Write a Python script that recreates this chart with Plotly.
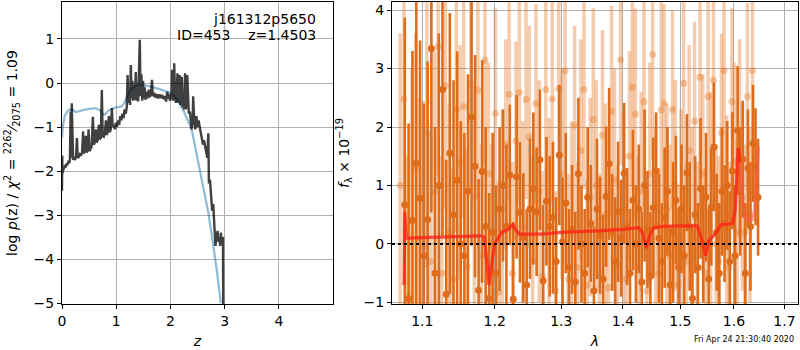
import plotly.graph_objects as go
import math

# ---------------- Left panel: p(z) ----------------
pz_z = [0.000,0.004,0.010,0.020,0.035,0.050,0.065,0.080,0.100,0.115,0.130,0.145,0.160,0.170,0.180,0.192,0.205,0.220,0.240,0.260,
        0.275,0.290,0.310,0.330,0.350,0.370,0.390,0.400,0.420,0.440,0.455,0.475,0.490,0.505,0.525,0.545,0.570,0.585,0.605,0.625,
        0.640,0.660,0.680,0.695,0.715,0.735,0.750,0.770,0.790,0.810,0.825,0.845,0.865,0.880,0.900,0.920,0.935,0.955,0.975,0.995,
        1.015,1.035,1.055,1.075,1.095,1.115,1.135,1.155,1.175,1.195,1.210,1.225,1.240,1.255,1.270,1.285,1.300,1.315,1.330,1.345,
        1.360,1.375,1.390,1.405,1.420,1.435,1.450,1.465,1.480,1.495,1.510,1.525,1.540,1.560,1.580,1.600,1.620,1.640,1.660,1.675,
        1.700,1.720,1.745,1.770,1.795,1.820,1.845,1.870,1.895,1.920,1.940,1.960,1.975,1.990,2.005,2.020,2.030,2.045,2.060,2.070,
        2.085,2.100,2.115,2.130,2.145,2.160,2.170,2.185,2.200,2.210,2.225,2.240,2.255,2.270,2.285,2.300,2.310,2.325,2.340,2.360,
        2.370,2.390,2.410,2.420,2.440,2.460,2.480,2.500,2.520,2.550,2.580,2.600,2.620,2.640,2.660,2.680,2.700,2.710,2.730,2.750,
        2.770,2.790,2.800,2.820,2.830,2.850,2.870,2.880,2.900,2.920,2.930,2.950,2.970,2.975]
pz_logp = [-2.45,-1.65,-2.05,-1.98,-1.95,-1.90,-1.92,-1.85,-1.85,-1.80,-1.82,-1.75,-0.65,-1.70,-0.46,-1.72,-1.75,-1.68,-1.75,-1.65,
           -1.25,-1.70,-1.68,-1.62,-1.65,-1.58,-1.10,-1.60,-1.55,-1.20,-1.58,-1.50,-1.05,-1.55,-1.50,-1.45,-0.77,-1.40,-1.35,-1.05,
           -1.35,-1.30,-0.95,-1.28,-1.25,-0.16,-1.20,-1.22,-1.15,-0.85,-1.18,-1.10,-0.75,-1.12,-1.05,-0.57,-1.00,-0.95,-1.05,-0.90,
           -1.00,-0.85,-0.95,-0.75,-0.85,-0.70,-0.80,-0.60,-0.70,-0.55,0.18,-0.45,-0.20,-0.50,0.41,-0.35,0.05,-0.40,-0.05,-0.38,
           0.25,-0.40,-0.15,-0.42,0.30,0.98,-0.30,0.20,-0.40,0.05,-0.35,-0.10,-0.38,-0.20,-0.35,-0.15,-0.32,-0.25,0.07,-0.30,
           -0.22,-0.33,-0.25,-0.35,-0.26,-0.34,-0.27,-0.36,-0.30,-0.42,-0.20,-0.35,-0.25,-0.40,-0.25,-0.35,0.30,-0.40,-0.20,0.45,
           -0.30,-0.45,-0.20,0.22,-0.45,-0.30,0.18,-0.50,-0.30,0.14,-0.55,-0.35,-0.60,0.22,-0.60,-0.40,0.18,-0.60,-0.70,-0.65,
           -0.80,-1.05,-0.85,-0.30,-0.90,-1.05,-0.75,-1.00,-0.85,-1.10,-1.25,-1.40,-1.30,-1.45,-1.50,-1.70,-1.14,-2.28,-2.20,-2.60,
           -2.90,-2.75,-3.00,-3.35,-3.70,-3.50,-3.36,-3.60,-3.50,-3.70,-3.40,-3.65,-3.50,-5.50]

prior_z = [0.00,0.02,0.05,0.10,0.15,0.20,0.25,0.30,0.35,0.40,0.45,0.50,0.55,0.60,0.65,0.70,0.74,0.78,0.82,0.86,
           0.90,0.95,1.00,1.05,1.10,1.15,1.20,1.25,1.30,1.35,1.40,1.45,1.50,1.55,1.60,1.70,1.80,1.90,2.00,2.05,
           2.10,2.15,2.20,2.25,2.30,2.35,2.40,2.45,2.50,2.55,2.60,2.65,2.70,2.75,2.80,2.85,2.90,2.93]
prior_logp = [-1.25,-0.95,-0.75,-0.64,-0.60,-0.61,-0.66,-0.65,-0.63,-0.61,-0.60,-0.58,-0.57,-0.57,-0.59,-0.62,-0.70,-0.72,-0.68,-0.62,
              -0.60,-0.58,-0.55,-0.55,-0.53,-0.45,-0.30,-0.20,-0.12,-0.07,-0.05,-0.05,-0.05,-0.06,-0.07,-0.10,-0.14,-0.18,-0.22,-0.27,
              -0.34,-0.43,-0.54,-0.65,-0.80,-0.93,-1.10,-1.40,-1.70,-2.00,-2.35,-2.65,-2.95,-3.35,-3.75,-4.20,-4.70,-5.00]

# ---------------- Right panel: spectrum ----------------
dark_lam = [1.077,1.082,1.087,1.092,1.097,1.102,1.107,1.112,1.117,1.122,1.127,1.132,1.137,1.142,1.147,1.152,1.157,1.162,1.167,1.172,
            1.177,1.182,1.187,1.192,1.197,1.202,1.207,1.212,1.217,1.222,1.227,1.232,1.237,1.242,1.247,1.252,1.257,1.262,1.267,1.272,
            1.277,1.282,1.287,1.292,1.297,1.302,1.307,1.312,1.317,1.322,1.327,1.332,1.337,1.342,1.347,1.352,1.357,1.362,1.367,1.372,
            1.377,1.382,1.387,1.392,1.397,1.402,1.407,1.412,1.417,1.422,1.427,1.432,1.437,1.442,1.447,1.452,1.457,1.462,1.467,1.472,
            1.477,1.482,1.487,1.492,1.497,1.502,1.507,1.512,1.517,1.522,1.527,1.532,1.537,1.542,1.547,1.552,1.557,1.562,1.567,1.572,
            1.577,1.582,1.587,1.592,1.597,1.602,1.607,1.612,1.617,1.622,1.627,1.632,1.637,1.642,1.647]
dark_flux = [0.67,-0.94,0.40,1.38,0.78,-0.20,0.42,3.34,-0.50,1.00,2.64,-0.86,1.55,0.50,1.09,0.00,-0.20,0.90,2.17,1.33,
             -0.79,1.24,0.30,-0.93,0.20,-0.50,0.60,1.00,0.30,1.18,-0.94,1.15,0.54,0.11,-0.70,0.60,0.95,0.55,1.44,-0.63,
             0.73,0.30,0.45,-0.30,1.52,0.04,0.70,-0.40,0.25,-0.65,1.20,0.00,-0.50,0.80,0.35,-0.80,0.60,0.15,-0.60,0.81,
             1.37,0.20,-0.30,0.55,0.10,1.21,0.30,-0.50,0.75,0.00,0.60,-0.65,1.00,0.25,-0.55,0.62,1.25,0.10,-0.30,0.45,
             0.90,-0.70,0.20,0.75,-0.40,0.60,-0.20,1.22,0.30,-0.93,0.50,-0.40,0.95,0.00,0.80,-0.60,0.63,1.66,0.20,-0.50,
             0.90,0.35,1.00,-0.30,1.25,-0.20,1.94,0.90,1.45,-0.50,1.30,0.30,1.72,1.32,0.80]
dark_err = [3.2,3.0,2.9,2.9,2.7,2.6,2.7,2.8,2.5,2.6,2.5,2.3,2.4,2.3,2.2,2.1,2.1,2.0,2.2,1.9,
            1.9,1.9,1.7,1.8,1.7,1.5,1.4,1.3,1.4,1.2,1.3,1.4,1.2,1.1,1.3,1.2,1.3,1.1,1.2,1.3,
            1.1,1.2,1.3,1.1,1.2,1.1,1.2,1.0,1.1,1.2,1.3,1.0,1.1,1.2,1.0,1.1,1.2,1.0,1.1,1.2,
            1.3,1.0,1.1,1.2,1.0,1.2,1.0,1.1,1.2,1.0,1.1,1.2,1.3,1.0,1.1,1.2,1.0,1.1,1.0,1.2,
            1.1,1.0,1.2,1.1,1.0,1.1,1.2,1.0,1.1,1.2,1.0,1.1,1.2,1.0,1.1,1.2,1.0,1.1,1.0,1.2,
            1.1,1.0,1.1,1.2,1.0,1.2,1.1,1.1,1.0,1.2,1.0,1.1,1.0,1.0,1.0]

light_lam = [1.071,1.076,1.081,1.086,1.091,1.096,1.101,1.106,1.111,1.116,1.121,1.126,1.131,1.136,1.141,1.146,1.151,1.156,1.161,1.166,
             1.171,1.176,1.181,1.186,1.191,1.196,1.201,1.206,1.211,1.216,1.221,1.226,1.231,1.236,1.241,1.246,1.251,1.256,1.261,1.266,
             1.271,1.276,1.281,1.286,1.291,1.296,1.301,1.306,1.311,1.316,1.321,1.326,1.331,1.336,1.341,1.346,1.351,1.356,1.361,1.366,
             1.371,1.376,1.381,1.386,1.391,1.396,1.401,1.406,1.411,1.416,1.421,1.426,1.431,1.436,1.441,1.446,1.451,1.456,1.461,1.466,
             1.471,1.476,1.481,1.486,1.491,1.496,1.501,1.506,1.511,1.516,1.521,1.526,1.531,1.536,1.541,1.546,1.551,1.556,1.561,1.566,
             1.571,1.576,1.581,1.586,1.591,1.596,1.601,1.606,1.611,1.616,1.621,1.626,1.631,1.636]
light_flux = [1.00,2.48,-0.90,0.40,1.30,0.10,-0.05,1.90,-0.30,0.90,3.37,-0.50,2.70,0.20,-0.60,2.30,1.40,2.35,-0.39,2.75,
              0.80,2.63,-0.20,3.14,1.20,0.00,2.23,-0.82,0.60,1.70,2.56,-0.50,1.76,2.59,0.30,2.47,1.83,-0.30,2.40,0.90,
              -0.55,2.64,0.45,2.48,-0.80,2.66,1.20,2.96,-0.60,0.20,2.03,-0.40,1.60,2.64,-0.70,0.80,2.13,1.00,-0.50,1.86,
              0.50,-0.75,2.27,1.10,-0.35,3.15,0.60,-0.60,1.50,2.68,2.22,-0.40,0.90,2.43,-0.80,1.20,3.24,0.30,-0.50,2.29,
              2.40,0.60,-0.20,2.30,1.00,-0.70,0.40,2.75,-0.30,1.60,0.10,2.10,-0.40,2.85,1.20,-0.50,2.52,0.70,2.80,0.00,
              -0.30,1.90,2.96,0.50,-0.40,2.43,1.40,0.20,1.80,0.80,0.20,2.52,0.50,2.96]
light_err = [2.6,2.5,2.4,2.6,2.3,2.4,2.5,2.3,2.2,2.4,2.2,2.0,2.1,2.2,1.9,2.1,2.0,1.9,2.0,1.8,
             1.9,1.8,1.9,1.8,1.9,1.7,1.8,1.9,1.7,1.8,1.8,1.9,1.7,1.9,1.8,1.7,1.9,1.8,1.7,1.9,
             1.8,1.9,1.7,1.8,1.7,1.9,1.8,1.7,1.8,1.9,1.7,1.8,1.9,1.7,1.8,1.7,1.9,1.8,1.7,1.8,
             1.9,1.7,1.8,1.9,1.7,1.8,1.7,1.9,1.8,1.7,1.8,1.9,1.7,1.8,1.7,1.9,1.8,1.7,1.8,1.9,
             1.7,1.8,1.9,1.7,1.8,1.7,1.9,1.8,1.7,1.8,1.9,1.7,1.8,1.9,1.7,1.8,1.7,1.9,1.8,1.7,
             1.8,1.7,1.6,1.7,1.8,1.6,1.7,1.6,1.7,1.6,1.5,1.6,1.5,1.6]

model_lam = [1.0760,1.0770,1.0790,1.1000,1.1500,1.1800,1.1850,1.1890,1.1920,1.1960,1.2000,1.2050,1.2100,1.2200,1.2265,1.2300,1.2360,1.2700,1.3000,1.3500,
             1.4000,1.4270,1.4330,1.4400,1.4460,1.4520,1.4700,1.5000,1.5310,1.5400,1.5460,1.5520,1.5650,1.5750,1.5970,1.6020,1.6080,1.6120]
model_flux = [-0.70,0.55,0.10,0.11,0.13,0.14,0.12,-0.30,-0.70,-0.30,0.00,0.10,0.20,0.25,0.34,0.25,0.17,0.17,0.20,0.22,
              0.25,0.28,0.20,-0.07,0.15,0.28,0.30,0.31,0.31,0.05,-0.20,0.05,0.18,0.33,0.35,0.55,1.64,1.40]
model2_lam = [1.6120,1.6150,1.6200,1.6250,1.6320,1.6360,1.6400,1.6440,1.6480]
model2_flux = [1.40,0.90,0.55,0.42,0.40,0.41,0.60,1.20,1.66]

lam_ticks = [1.1,1.2,1.3,1.4,1.5,1.6,1.7]
lam_labels = ["1.1","1.2","1.3","1.4","1.5","1.6","1.7"]

FONT = "DejaVu Sans"
DARK = "rgb(222,108,26)"
LIGHT = "rgba(230,120,40,0.38)"

fig = go.Figure()

fig.add_trace(go.Scatter(x=prior_z, y=prior_logp, mode="lines",
                         line=dict(color="rgba(31,119,180,0.5)", width=2.2),
                         xaxis="x", yaxis="y", showlegend=False))
fig.add_trace(go.Scatter(x=pz_z, y=pz_logp, mode="lines",
                         line=dict(color="rgba(0,0,0,0.75)", width=2.4),
                         xaxis="x", yaxis="y", showlegend=False))

fig.add_trace(go.Scatter(x=light_lam, y=light_flux, mode="markers",
                         marker=dict(color=LIGHT, size=7),
                         error_y=dict(type="data", array=light_err, thickness=3.5, width=0, color=LIGHT),
                         xaxis="x2", yaxis="y2", showlegend=False))
fig.add_trace(go.Scatter(x=dark_lam, y=dark_flux, mode="markers",
                         marker=dict(color=DARK, size=7),
                         error_y=dict(type="data", array=dark_err, thickness=2.6, width=0, color=DARK),
                         xaxis="x2", yaxis="y2", showlegend=False))
fig.add_trace(go.Scatter(x=model_lam, y=model_flux, mode="lines",
                         line=dict(color="rgba(255,30,20,0.75)", width=3.2),
                         xaxis="x2", yaxis="y2", showlegend=False))
fig.add_trace(go.Scatter(x=model2_lam, y=model2_flux, mode="lines",
                         line=dict(color="rgba(255,80,80,0.5)", width=3.2),
                         xaxis="x2", yaxis="y2", showlegend=False))

axis_common = dict(showline=True, linecolor="black", linewidth=1, mirror=True,
                   ticks="outside", ticklen=4, tickcolor="black", tickwidth=1,
                   showgrid=True, gridcolor="#b0b0b0", gridwidth=1, zeroline=False,
                   tickfont=dict(family=FONT, size=14, color="black"), automargin=False)

fig.update_layout(
    width=800, height=350,
    margin=dict(l=0, r=0, t=0, b=0),
    paper_bgcolor="white", plot_bgcolor="white",
    font=dict(family=FONT, size=14, color="black"),
    xaxis=dict(domain=[0.0775, 0.4163], range=[0, 5], tickvals=[0, 1, 2, 3, 4],
               title=dict(text="<i>z</i>", standoff=8, font=dict(family=FONT, size=14)), anchor="y", **axis_common),
    yaxis=dict(domain=[0.1314, 0.9943], range=[-5.02, 1.84], tickvals=[-5, -4, -3, -2, -1, 0, 1],
               ticktext=["\u22125", "\u22124", "\u22123", "\u22122", "\u22121", "0", "1"],
               title=dict(text="log <i>p</i>(z) / <i>\u03c7</i><sup>2</sup> = <sup>2262</sup>\u2044<sub>2075</sub> = 1.09",
                          standoff=12, font=dict(family=FONT, size=14)), anchor="x", **axis_common),
    xaxis2=dict(domain=[0.49, 0.9975], type="log", range=[math.log10(1.0606), math.log10(1.728)],
                tickvals=lam_ticks, ticktext=lam_labels,
                title=dict(text="<i>\u03bb</i>", standoff=8, font=dict(family=FONT, size=14)), anchor="y2", **axis_common),
    yaxis2=dict(domain=[0.1314, 0.9943], range=[-1.026, 4.137], tickvals=[-1, 0, 1, 2, 3, 4],
                ticktext=["\u22121", "0", "1", "2", "3", "4"],
                title=dict(text="<i>f</i><sub>\u03bb</sub> \u00d7 10<sup>\u221219</sup>", standoff=10,
                           font=dict(family=FONT, size=14)), anchor="x2", **axis_common),
)

fig.add_shape(type="line", xref="x2 domain", x0=0, x1=1, yref="y2", y0=0, y1=0,
              line=dict(color="black", width=2, dash="dot"), layer="above")

fig.add_annotation(text="j161312p5650", xref="paper", yref="paper", x=318/800, y=1-19/350,
                   xanchor="right", yanchor="middle", showarrow=False, font=dict(family=FONT, size=14))
fig.add_annotation(text="ID=453\u00a0\u00a0\u00a0\u00a0z=1.4503", xref="paper", yref="paper", x=318/800, y=1-35/350,
                   xanchor="right", yanchor="middle", showarrow=False, font=dict(family=FONT, size=14))
fig.add_annotation(text="Fri Apr 24 21:30:40 2020", xref="paper", yref="paper", x=744/800, y=1-339/350,
                   xanchor="center", yanchor="middle", showarrow=False, font=dict(family=FONT, size=8))

fig.write_html("out.html", config={"displayModeBar": False},
               post_script="document.body.style.margin='0px';document.body.style.padding='0px';")
